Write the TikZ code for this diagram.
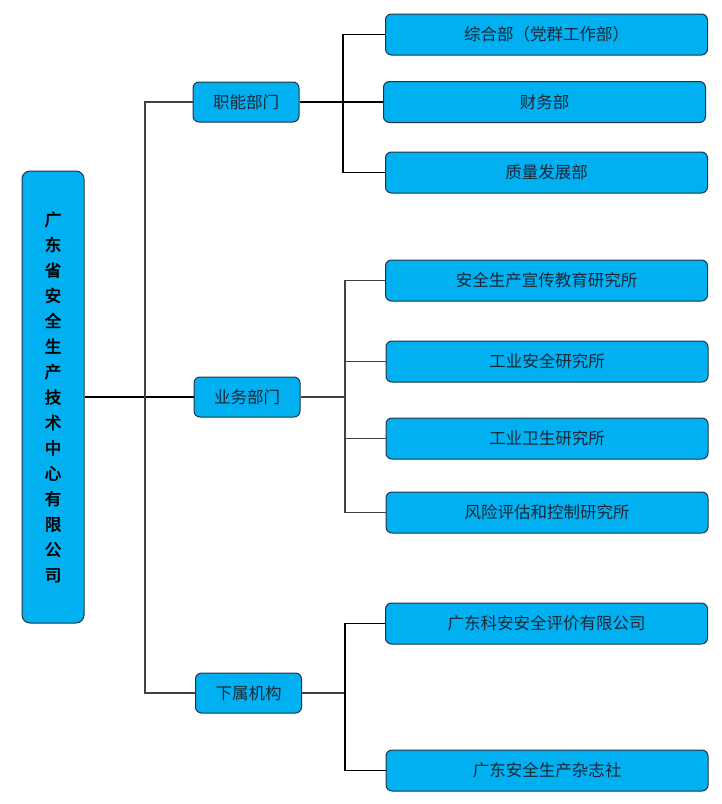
\documentclass[tikz,border=0pt]{standalone}
\usepackage{fontspec}
\newfontfamily\cjk{Noto Sans CJK SC}
\newfontfamily\cjkbold[FakeBold=2.5]{Noto Sans CJK SC}
\definecolor{boxblue}{HTML}{00B0F0}
\definecolor{boxline}{HTML}{1E3448}
\definecolor{boxtext}{HTML}{1A2838}
\tikzset{
  orgbox/.style={draw=boxline, line width=1pt, fill=boxblue, rounded corners=6pt,
    text=boxtext, font=\cjk\fontsize{16.5}{19}\selectfont, inner sep=0pt},
  deptbox/.style={orgbox, minimum width=106pt, minimum height=40pt},
  unitbox/.style={orgbox, minimum width=322pt, minimum height=41pt},
  heavy/.style={line width=1.6pt, black},
  light/.style={line width=1.1pt, black!75}
}

\begin{document}
\begin{tikzpicture}[x=1pt, y=-1pt]
\useasboundingbox (0,0) rectangle (722,804);

% company
\node [orgbox, minimum width=62pt, minimum height=452pt, rounded corners=8pt,
  align=center, font=\cjkbold\fontsize{16.5}{25.4}\selectfont, text=black]
  (root) at (53,397) {广\\东\\省\\安\\全\\生\\产\\技\\术\\中\\心\\有\\限\\公\\司};

% departments
\node [deptbox] (jn) at (246,102) {职能部门};
\node [deptbox] (yw) at (247,397) {业务部门};
\node [deptbox] (xs) at (248.5,693) {下属机构};

% units
\node [unitbox] (zh) at (546.5,34.5) {综合部（党群工作部）};
\node [unitbox] (cw) at (544.5,102) {财务部};
\node [unitbox] (zl) at (546.5,172.5) {质量发展部};

\node [unitbox] (aq) at (546.5,280.5) {安全生产宣传教育研究所};
\node [unitbox] (gy) at (547,361.5) {工业安全研究所};
\node [unitbox] (ws) at (547,438.5) {工业卫生研究所};
\node [unitbox] (fx) at (547,512.5) {风险评估和控制研究所};

\node [unitbox] (kj) at (546.5,623.5) {广东科安安全评价有限公司};
\node [unitbox] (zz) at (547,770.5) {广东安全生产杂志社};

% junctions
\coordinate (t0) at (145,397);
\coordinate (j1) at (343,102);
\coordinate (j2) at (345,397);
\coordinate (j3) at (345,693);

% trunk
\draw [heavy] (root.east) -- (yw.west);
\draw [light] (jn.west) -| (t0) |- (xs.west);

% first group
\draw [heavy] (jn.east) -- (cw.west);
\draw [heavy] (zh.west) -| (j1) |- (zl.west);

% second group
\draw [light] (yw.east) -- (j2);
\draw [light] (aq.west) -| (j2) |- (fx.west);
\draw [light] (gy.west) -- (gy.west -| j2);
\draw [light] (ws.west) -- (ws.west -| j2);

% third group
\draw [light] (xs.east) -- (j3);
\draw [heavy] (kj.west) -| (j3) |- (zz.west);

\end{tikzpicture}
\end{document}
